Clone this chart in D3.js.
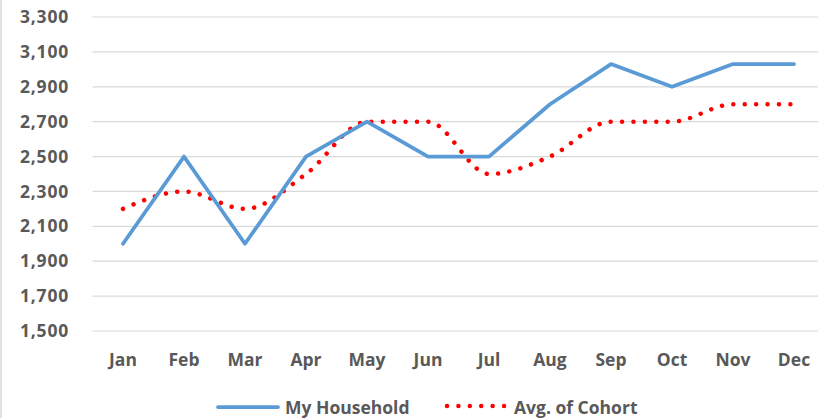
<!DOCTYPE html>
<html><head><meta charset="utf-8">
<script src="https://cdn.jsdelivr.net/npm/d3@7"></script>
<style>
html,body{margin:0;padding:0;background:#fff;}
svg{display:block;}
text{font-family:"Open Sans",sans-serif;font-weight:700;fill:#595959;}
</style></head>
<body><svg id="c" width="818" height="418"></svg>
<script>
const months = ["Jan","Feb","Mar","Apr","May","Jun","Jul","Aug","Sep","Oct","Nov","Dec"];
const household = [2000,2500,2000,2500,2700,2500,2500,2800,3030,2900,3030,3030];
const cohort = [2200,2300,2200,2400,2700,2700,2400,2500,2700,2700,2800,2800];
const yTicks = [1500,1700,1900,2100,2300,2500,2700,2900,3100,3300];
const seriesNames = ["My Household","Avg. of Cohort"];

const svg = d3.select("#c");
const x = d3.scaleBand().domain(months).range([92.5, 824.5]).padding(0);
const y = d3.scaleLinear().domain([1500,3300]).range([331,17]);
const fmt = d3.format(",");

// left border
svg.append("line").attr("x1",1).attr("x2",1).attr("y1",0).attr("y2",418)
  .attr("stroke","#d9d9d9").attr("stroke-width",1.5);

// gridlines
svg.append("g").selectAll("line").data(yTicks).join("line")
  .attr("x1",92.5).attr("x2",818)
  .attr("y1",d=>y(d)).attr("y2",d=>y(d))
  .attr("stroke","#d9d9d9").attr("stroke-width",1.2);

// y axis labels
const yAxis = d3.axisLeft(y).tickValues(yTicks).tickFormat(fmt).tickSize(0).tickPadding(0);
const gy = svg.append("g").attr("transform","translate(69,0)").call(yAxis);
gy.select(".domain").remove();
gy.selectAll("text").attr("font-size",17.5).attr("letter-spacing","0.8px").attr("font-family","Open Sans").attr("font-weight",700).attr("fill","#595959");

// x axis labels
const xAxis = d3.axisBottom(x).tickSize(0).tickPadding(0);
const gx = svg.append("g").attr("transform","translate(0,354)").call(xAxis);
gx.select(".domain").remove();
gx.selectAll("text").attr("font-size",17.5).attr("font-family","Open Sans").attr("font-weight",700).attr("fill","#595959");

const cx = d => x(d) + x.bandwidth()/2;

// cohort dotted smooth line
const lineSmooth = d3.line().x((d,i)=>cx(months[i])).y(d=>y(d)).curve(d3.curveMonotoneX);
svg.append("path").datum(cohort).attr("d",lineSmooth)
  .attr("fill","none").attr("stroke","#ff0000").attr("stroke-width",4.5)
  .attr("stroke-linecap","round").attr("stroke-dasharray","0.01 11.4");

// household line
const lineStraight = d3.line().x((d,i)=>cx(months[i])).y(d=>y(d));
svg.append("path").datum(household).attr("d",lineStraight)
  .attr("fill","none").attr("stroke","#5b9bd5").attr("stroke-width",3.75)
  .attr("stroke-linejoin","round").attr("stroke-linecap","round");

// legend
const lg = svg.append("g");
lg.append("line").attr("x1",218).attr("x2",278).attr("y1",407).attr("y2",407)
  .attr("stroke","#5b9bd5").attr("stroke-width",3.75).attr("stroke-linecap","round");
lg.append("text").attr("x",285).attr("y",413.5).attr("font-size",17.5).text(seriesNames[0]);
lg.append("line").attr("x1",447).attr("x2",506).attr("y1",406).attr("y2",406)
  .attr("stroke","#ff0000").attr("stroke-width",4.5)
  .attr("stroke-linecap","round").attr("stroke-dasharray","0.01 11.4");
lg.append("text").attr("x",514).attr("y",413.5).attr("font-size",17.5).text(seriesNames[1]);
</script></body></html>
